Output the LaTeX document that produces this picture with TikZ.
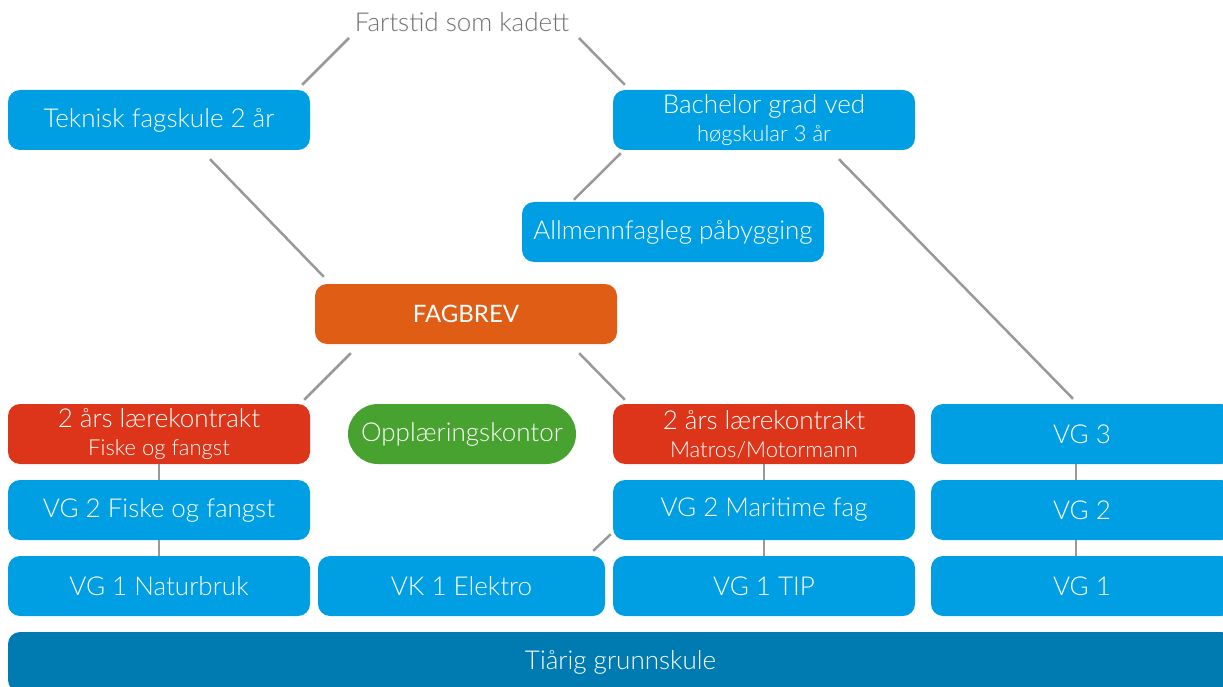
\documentclass[tikz,border=0pt]{standalone}
\usepackage{fontspec}
\setmainfont{Lato Light}
\newfontfamily\boldish{Lato}
\usepackage{tikz}
\usetikzlibrary{calc}

\definecolor{skyblue}{HTML}{009FE3}
\definecolor{deepblue}{HTML}{007BB1}
\definecolor{fagorange}{HTML}{E05D16}
\definecolor{contractred}{HTML}{DC3519}
\definecolor{officegreen}{HTML}{47A22F}
\definecolor{linkgray}{HTML}{999999}
\definecolor{labelgray}{HTML}{707070}

\newcommand{\smallline}[1]{{\fontsize{22}{24}\selectfont #1}}

\tikzset{
  box/.style={rounded corners=12pt, minimum width=302pt, minimum height=60pt,
    inner sep=0pt, text=white, align=center, font=\fontsize{26}{28}\selectfont},
  bluebox/.style={box, fill=skyblue},
  redbox/.style={box, fill=contractred},
  link/.style={draw=linkgray, line width=2.5pt}
}

\begin{document}
\begin{tikzpicture}[x=1pt, y=-1pt]
\clip (0,0) rectangle (1223,687);
\node (fart) [text=labelgray, font=\fontsize{26}{28}\selectfont] at (462,22) {Fartstid som kadett};
\node (tek) [bluebox] at (159,120) {Teknisk fagskule 2 år};
\node (bach) [bluebox] at (764,120) {Bachelor grad ved\\[0pt]\smallline{høgskular 3 år}};
\node (allm) [bluebox] at (673,232) {Allmennfagleg påbygging};
\node (fag) [box, fill=fagorange, font=\boldish\fontsize{24}{26}\selectfont] at (466,314) {FAGBREV};
\node (lkf) [redbox] at (159,434) {2 års lærekontrakt\\[0pt]\smallline{Fiske og fangst}};
\node (kontor) [box, fill=officegreen, minimum width=228pt, rounded corners=30pt] at (462,434) {Opplæringskontor};
\node (lkm) [redbox] at (764,434) {2 års lærekontrakt\\[0pt]\smallline{Matros/Motormann}};
\node (vg3) [bluebox] at (1082,434) {VG 3};
\node (vg2f) [bluebox] at (159,510) {VG 2 Fiske og fangst};
\node (vg2m) [bluebox] at (764,510) {VG 2 Maritime fag};
\node (vg2) [bluebox] at (1082,510) {VG 2};
\node (vg1n) [bluebox] at (159,586) {VG 1 Naturbruk};
\node (vk1) [bluebox, minimum width=287pt] at (461.5,586) {VK 1 Elektro};
\node (vg1t) [bluebox] at (764,586) {VG 1 TIP};
\node (vg1) [bluebox] at (1082,586) {VG 1};
\node (grunn) [box, fill=deepblue, minimum width=1225pt] at (620.5,662) {Tiårig grunnskule};

% diagonal links
\draw[link] ([shift={(-113,16)}]fart.center) -- ([shift={(-8,-5)}]tek.north east);
\draw[link] ([shift={(117,16)}]fart.center) -- ([shift={(12,-5)}]bach.north west);
\draw[link] ([shift={(51,9)}]tek.south) -- ([shift={(9,-7)}]fag.north west);
\draw[link] ([shift={(8,3)}]bach.south west) -- ([shift={(52,-2)}]allm.north west);
\draw[link] ([shift={(75,9)}]bach.south) -- ([shift={(-9,-5)}]vg3.north);
\draw[link] ([shift={(36,9)}]fag.south west) -- ([shift={(-6,-4)}]lkf.north east);
\draw[link] ([shift={(-38,9)}]fag.south east) -- ([shift={(12,-4)}]lkm.north west);
\draw[link] ([shift={(-12,-5)}]vk1.north east) -- ([shift={(-2,-6)}]vg2m.south west);
% vertical links
\draw[link] (lkf.south) -- (vg2f.north);
\draw[link] (vg2f.south) -- (vg1n.north);
\draw[link] (lkm.south) -- (vg2m.north);
\draw[link] (vg2m.south) -- (vg1t.north);
\draw[link] ([xshift=-6pt]vg3.south) -- ([xshift=-6pt]vg2.north);
\draw[link] ([xshift=-6pt]vg2.south) -- ([xshift=-6pt]vg1.north);
\end{tikzpicture}
\end{document}
